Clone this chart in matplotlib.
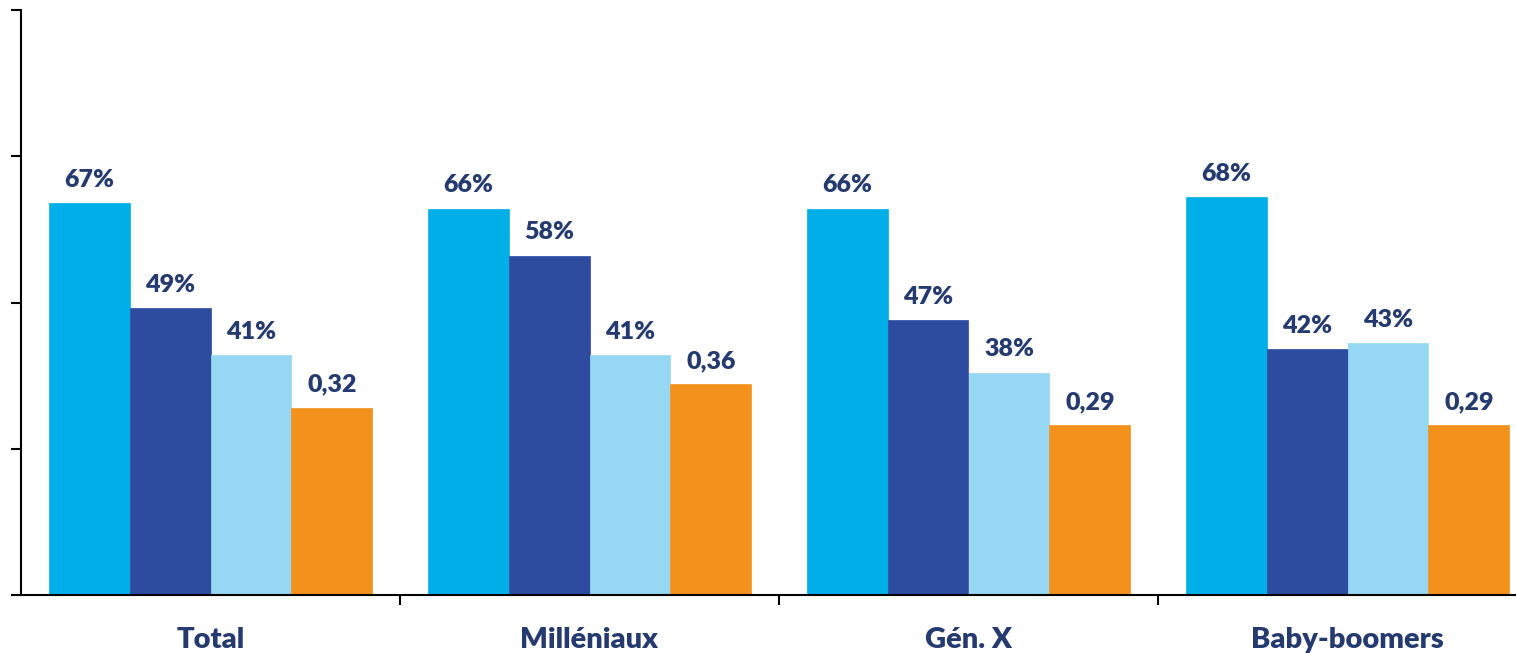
import numpy as np
import matplotlib.pyplot as plt

# Data
categories = ['Total', 'Milléniaux', 'Gén. X', 'Baby-boomers']
serie_1 = [0.67, 0.66, 0.66, 0.68]
serie_2 = [0.49, 0.58, 0.47, 0.42]
serie_3 = [0.41, 0.41, 0.38, 0.43]
serie_4 = [0.32, 0.36, 0.29, 0.29]

series = [serie_1, serie_2, serie_3, serie_4]
colors = ['#00AEE8', '#2D4B9F', '#96D8F4', '#F2921C']
formats = ['pct', 'pct', 'pct', 'dec']
text_color = '#253A6F'

plt.rcParams['font.family'] = ['Lato', 'DejaVu Sans']

fig = plt.figure(figsize=(15.16, 6.53), dpi=100)
W, H = 1516, 653
ax = fig.add_axes([21 / W, 1 - 595 / H, 1516 / W, (595 - 10) / H])

x = np.arange(len(categories))
width = 0.2137
offsets = (np.arange(len(series)) - 1.5) * width

for vals, col, fmt, off in zip(series, colors, formats, offsets):
    bars = ax.bar(x + off, vals, width=width, color=col,
                  edgecolor=col, linewidth=0.5)
    for b, v in zip(bars, vals):
        if fmt == 'pct':
            label = f'{round(v * 100)}%'
        else:
            label = f'{v:.2f}'.replace('.', ',')
        ax.annotate(label, (b.get_x() + b.get_width() / 2, v),
                    xytext=(0, 9), textcoords='offset points',
                    ha='center', va='bottom', fontsize=18,
                    fontweight='heavy', color=text_color)

ax.set_xlim(-0.5, len(categories) - 0.5)
ax.set_ylim(0, 1)
ax.set_yticks([0, 0.25, 0.5, 0.75, 1.0])
ax.set_yticklabels([])

ax.set_xticks(np.arange(len(categories) - 1) + 0.5)
ax.set_xticklabels([])
ax.set_xticks(x, minor=True)
ax.set_xticklabels(categories, minor=True, fontsize=21,
                   fontweight='heavy', color=text_color)
ax.tick_params(axis='x', which='minor', length=0, pad=23)
ax.tick_params(axis='both', which='major', length=7, width=1.5, direction='out')

for s in ['top', 'right']:
    ax.spines[s].set_visible(False)
for s in ['left', 'bottom']:
    ax.spines[s].set_linewidth(1.5)

fig.savefig('out.png', dpi=100)
